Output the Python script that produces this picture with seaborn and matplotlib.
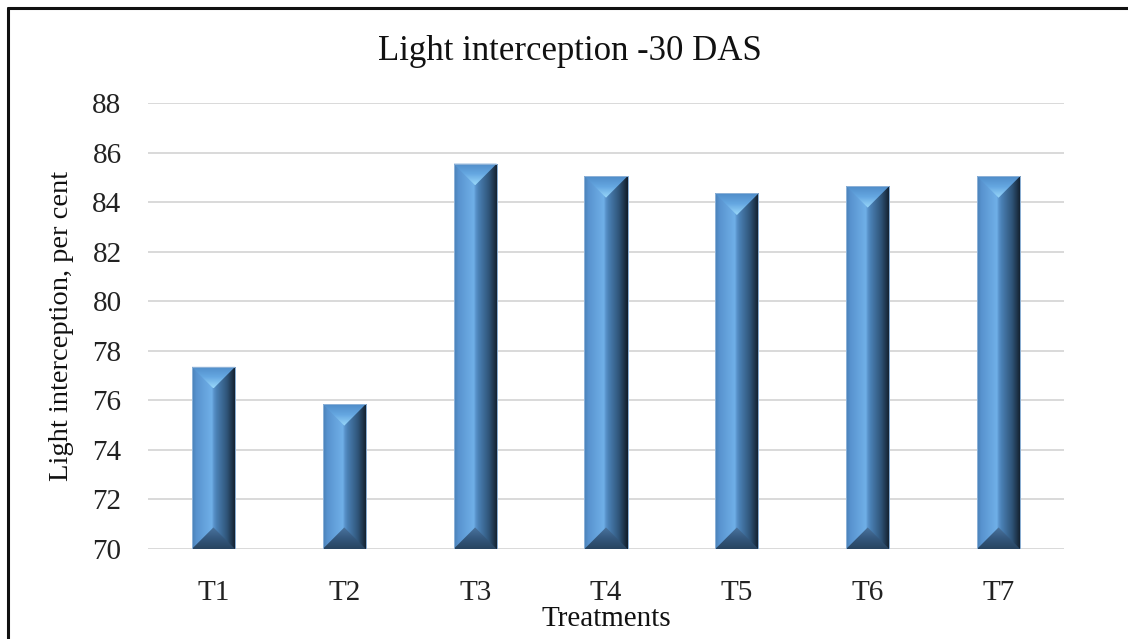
import numpy as np
import matplotlib
matplotlib.use("Agg")
import matplotlib.pyplot as plt
from matplotlib.colors import LinearSegmentedColormap
from matplotlib.patches import Polygon
from matplotlib.lines import Line2D
import seaborn as sns

# Treatment means
treatments = ["T1", "T2", "T3", "T4", "T5", "T6", "T7"]
light_interception = [77.35, 75.85, 85.55, 85.05, 84.35, 84.65, 85.05]

y_ticks = [70, 72, 74, 76, 78, 80, 82, 84, 86, 88]

sns.set_theme(style="white")
plt.rcParams["font.family"] = ["Liberation Serif", "DejaVu Serif"]

W, H = 1128, 639
fig = plt.figure(figsize=(W / 100, H / 100), dpi=100)
fig.patch.set_facecolor("white")
ax = fig.add_axes([148 / W, 90 / H, (1064 - 148) / W, (549 - 103) / H])

sns.barplot(x=treatments, y=light_interception, color="#4f86c0",
            width=0.33, ax=ax, saturation=1, zorder=3)

ax.set_ylim(70, 88)
ax.set_xlim(-0.5, len(treatments) - 0.5)
ax.set_yticks(y_ticks)
ax.yaxis.grid(True, color="#d9d9d9", linewidth=1.4, zorder=0)
ax.xaxis.grid(False)
for s in ax.spines.values():
    s.set_visible(False)
ax.tick_params(axis="y", length=0, pad=19, labelsize=21, colors="#222222")
ax.tick_params(axis="x", length=0, pad=22, labelsize=21, colors="#222222")
ax.set_xlabel("Treatments", fontsize=21, labelpad=0, color="#111111")
ax.set_ylabel("Light interception, per cent", fontsize=20.5, labelpad=13, color="#111111")
fig.text(570 / W, 1 - 52 / H, "Light interception -30 DAS", ha="center",
         va="center", fontsize=25, color="#111111")

# Bevelled shading on every bar
side_cmap = LinearSegmentedColormap.from_list("side", [
    (0.00, "#4a80b6"), (0.10, "#5893cf"), (0.45, "#70b0e8"),
    (0.50, "#5892ca"), (0.56, "#4a80b4"), (0.80, "#2f5478"),
    (1.00, "#111c28")])
top_cmap = LinearSegmentedColormap.from_list("top", ["#9ad8fa", "#66a8e2", "#4f8cc8"])
bot_cmap = LinearSegmentedColormap.from_list("bot", ["#4a749e", "#34587e", "#284460"])

fig.canvas.draw()
px_per_x = ax.transData.transform((1, 0))[0] - ax.transData.transform((0, 0))[0]
px_per_y = ax.transData.transform((0, 1))[1] - ax.transData.transform((0, 0))[1]
ybase = ax.get_ylim()[0]

for bar in list(ax.patches):
    x0 = bar.get_x()
    w = bar.get_width()
    top = bar.get_y() + bar.get_height()
    bot = max(bar.get_y(), ybase)
    xc = x0 + w / 2
    depth = (w / 2) * px_per_x / px_per_y
    bar.set_edgecolor("#9fc0e0")
    bar.set_linewidth(0.6)

    side = ax.imshow(np.linspace(0, 1, 256).reshape(1, -1), cmap=side_cmap,
                     extent=(x0, x0 + w, bot, top), aspect="auto",
                     interpolation="bilinear", zorder=3.5)
    side.set_clip_path(bar)

    tri_top = Polygon([(x0, top), (x0 + w, top), (xc, top - depth)],
                      closed=True, transform=ax.transData)
    g = ax.imshow(np.linspace(0, 1, 128).reshape(-1, 1), cmap=top_cmap,
                  extent=(x0, x0 + w, top - depth, top), origin="lower",
                  aspect="auto", interpolation="bilinear", zorder=3.6)
    g.set_clip_path(tri_top)

    tri_bot = Polygon([(x0, bot), (x0 + w, bot), (xc, bot + depth)],
                      closed=True, transform=ax.transData)
    g2 = ax.imshow(np.linspace(0, 1, 128).reshape(-1, 1), cmap=bot_cmap,
                   extent=(x0, x0 + w, bot + depth, bot), origin="lower",
                   aspect="auto", interpolation="bilinear", zorder=3.6)
    g2.set_clip_path(tri_bot)

    ax.add_patch(Polygon([(x0, bot), (x0 + w, bot), (x0 + w, top), (x0, top)],
                         closed=True, fill=False, edgecolor="#8fb3d8",
                         linewidth=0.7, zorder=3.8))

ax.set_xlim(-0.5, len(treatments) - 0.5)
ax.set_ylim(70, 88)

# Frame around the chart area
fig.add_artist(Line2D([7.5 / W, 7.5 / W], [0, 1 - 8 / H], transform=fig.transFigure,
                      color="#111111", linewidth=2.2))
fig.add_artist(Line2D([7.5 / W, 1], [1 - 8 / H, 1 - 8 / H], transform=fig.transFigure,
                      color="#111111", linewidth=2.2))

fig.savefig("out.png", dpi=100)
